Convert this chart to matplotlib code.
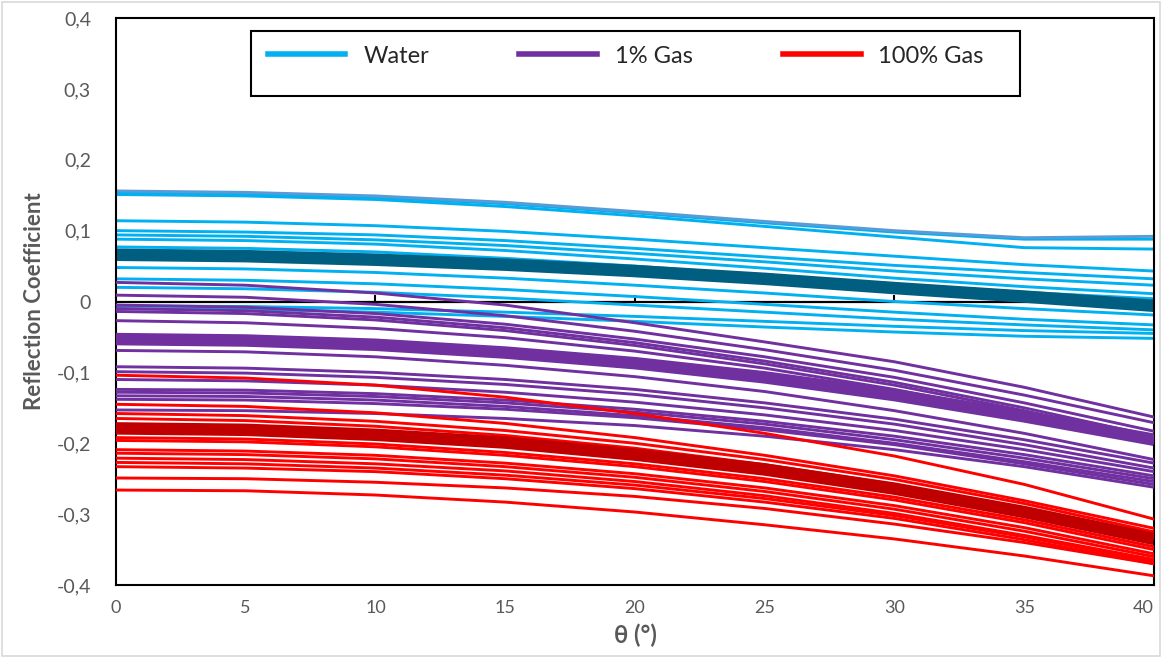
import matplotlib
matplotlib.use("Agg")
import matplotlib.pyplot as plt
from matplotlib.lines import Line2D
from matplotlib.patches import Rectangle

plt.rcParams['font.family'] = ['Lato', 'DejaVu Sans']

# Incidence angles (degrees)
theta = [0, 5, 10, 15, 20, 25, 30, 35, 40]

# Water-saturated cases
water_top = [0.156, 0.154, 0.149, 0.140, 0.127, 0.113, 0.100, 0.090, 0.092]
water_thin = [
    [0.154, 0.152, 0.147, 0.138, 0.125, 0.111, 0.098, 0.088, 0.088],
    [0.151, 0.149, 0.144, 0.134, 0.121, 0.106, 0.091, 0.076, 0.074],
    [0.114, 0.112, 0.107, 0.099, 0.088, 0.076, 0.064, 0.052, 0.043],
    [0.100, 0.098, 0.094, 0.086, 0.075, 0.063, 0.051, 0.041, 0.032],
    [0.094, 0.092, 0.087, 0.079, 0.068, 0.056, 0.043, 0.032, 0.023],
    [0.088, 0.086, 0.081, 0.072, 0.060, 0.047, 0.033, 0.021, 0.011],
    [0.077, 0.075, 0.070, 0.061, 0.050, 0.037, 0.024, 0.013, 0.004],
    [0.048, 0.046, 0.041, 0.033, 0.023, 0.012, 0.000, -0.010, -0.019],
    [0.032, 0.030, 0.025, 0.017, 0.007, -0.004, -0.015, -0.025, -0.033],
    [0.020, 0.018, 0.013, 0.005, -0.005, -0.015, -0.025, -0.033, -0.040],
    [-0.006, -0.007, -0.010, -0.015, -0.021, -0.028, -0.035, -0.041, -0.045],
    [-0.010, -0.011, -0.015, -0.021, -0.028, -0.036, -0.043, -0.049, -0.052],
]
water_mean = [0.066, 0.064, 0.059, 0.052, 0.043, 0.032, 0.019, 0.007, -0.006]

# 1% gas saturation
gas1_thin = [
    [0.027, 0.023, 0.012, -0.005, -0.030, -0.057, -0.085, -0.121, -0.163],
    [0.009, 0.006, -0.004, -0.020, -0.042, -0.068, -0.097, -0.132, -0.171],
    [-0.005, -0.008, -0.017, -0.032, -0.053, -0.078, -0.107, -0.143, -0.183],
    [-0.010, -0.013, -0.022, -0.037, -0.058, -0.084, -0.114, -0.150, -0.190],
    [-0.014, -0.017, -0.026, -0.041, -0.062, -0.088, -0.118, -0.154, -0.196],
    [-0.027, -0.030, -0.038, -0.051, -0.070, -0.094, -0.124, -0.159, -0.200],
    [-0.069, -0.071, -0.078, -0.090, -0.106, -0.127, -0.154, -0.186, -0.223],
    [-0.092, -0.094, -0.100, -0.110, -0.124, -0.143, -0.166, -0.195, -0.228],
    [-0.099, -0.101, -0.107, -0.117, -0.131, -0.150, -0.173, -0.202, -0.235],
    [-0.110, -0.112, -0.118, -0.128, -0.142, -0.160, -0.182, -0.209, -0.240],
    [-0.124, -0.125, -0.130, -0.139, -0.152, -0.169, -0.190, -0.216, -0.246],
    [-0.128, -0.129, -0.134, -0.143, -0.156, -0.173, -0.195, -0.221, -0.250],
    [-0.133, -0.134, -0.139, -0.148, -0.161, -0.178, -0.200, -0.226, -0.254],
    [-0.138, -0.139, -0.144, -0.152, -0.164, -0.181, -0.202, -0.229, -0.258],
    [-0.153, -0.154, -0.158, -0.165, -0.175, -0.190, -0.209, -0.233, -0.262],
]
gas1_mean = [-0.053, -0.055, -0.061, -0.072, -0.087, -0.107, -0.132, -0.162, -0.195]

# 100% gas saturation
gas100_thin = [
    [-0.104, -0.108, -0.118, -0.135, -0.158, -0.186, -0.218, -0.258, -0.307],
    [-0.145, -0.148, -0.157, -0.172, -0.192, -0.217, -0.246, -0.281, -0.320],
    [-0.158, -0.161, -0.169, -0.182, -0.200, -0.223, -0.251, -0.285, -0.325],
    [-0.165, -0.168, -0.176, -0.189, -0.207, -0.230, -0.258, -0.292, -0.330],
    [-0.192, -0.194, -0.201, -0.213, -0.229, -0.250, -0.276, -0.308, -0.346],
    [-0.196, -0.198, -0.205, -0.217, -0.233, -0.254, -0.280, -0.312, -0.350],
    [-0.209, -0.211, -0.217, -0.228, -0.243, -0.263, -0.288, -0.319, -0.356],
    [-0.214, -0.216, -0.222, -0.233, -0.248, -0.268, -0.293, -0.324, -0.360],
    [-0.221, -0.223, -0.229, -0.239, -0.254, -0.274, -0.299, -0.330, -0.364],
    [-0.227, -0.229, -0.235, -0.245, -0.259, -0.278, -0.302, -0.332, -0.367],
    [-0.233, -0.235, -0.240, -0.250, -0.264, -0.283, -0.306, -0.336, -0.370],
    [-0.249, -0.250, -0.255, -0.263, -0.275, -0.292, -0.314, -0.340, -0.370],
    [-0.266, -0.267, -0.273, -0.283, -0.297, -0.315, -0.335, -0.359, -0.387],
]
gas100_mean = [-0.179, -0.181, -0.188, -0.199, -0.216, -0.237, -0.264, -0.297, -0.335]

legend_labels = ["Water", "1% Gas", "100% Gas"]
x_ticks = [0, 5, 10, 15, 20, 25, 30, 35, 40]
y_ticks = [0.4, 0.3, 0.2, 0.1, 0.0, -0.1, -0.2, -0.3, -0.4]

C_WATER = "#00B0F0"
C_WATER_TOP = "#5B9BD5"
C_WATER_MEAN = "#005F80"
C_GAS1 = "#7030A0"
C_GAS100 = "#FF0000"
C_GAS100_MEAN = "#C00000"
C_TEXT = "#595959"

fig = plt.figure(figsize=(11.62, 6.58), dpi=100)
ax = fig.add_axes([0.0998, 0.1109, 0.8933, 0.8617])

THIN = 2.1
THICK = 9.0

# zero line with small ticks on it
ax.axhline(0, color="black", lw=1.6, zorder=1)
ax.plot([10, 20, 30], [0, 0, 0], linestyle="none", marker=2, markersize=5,
        markeredgewidth=1.5, color="black", zorder=1, clip_on=False)

for ys in water_thin:
    ax.plot(theta, ys, color=C_WATER, lw=THIN, zorder=2)
ax.plot(theta, water_top, color=C_WATER_TOP, lw=THIN, zorder=2)
ax.plot(theta, water_mean, color=C_WATER_MEAN, lw=THICK, zorder=2,
        solid_capstyle="butt")

for ys in gas1_thin:
    ax.plot(theta, ys, color=C_GAS1, lw=THIN, zorder=3)
ax.plot(theta, gas1_mean, color=C_GAS1, lw=THICK, zorder=3,
        solid_capstyle="butt")

for ys in gas100_thin:
    ax.plot(theta, ys, color=C_GAS100, lw=THIN, zorder=4)
ax.plot(theta, gas100_mean, color=C_GAS100_MEAN, lw=THICK, zorder=4,
        solid_capstyle="butt")

ax.set_xlim(0, 40)
ax.set_ylim(-0.4, 0.4)
ax.set_xticks(x_ticks)
ax.set_xticklabels([str(v) for v in x_ticks])
ax.set_yticks(y_ticks)
ax.set_yticklabels(["0" if v == 0 else f"{v:.1f}".replace(".", ",") for v in y_ticks])
ax.tick_params(axis="both", length=0, labelcolor=C_TEXT)
ax.tick_params(axis="y", labelsize=14, pad=18)
ax.tick_params(axis="x", labelsize=13, pad=11)
# keep the last angle label inside the chart area
ax.get_xticklabels()[-1].set_horizontalalignment("right")
ax.get_xticklabels()[-1].set_x(40)

for sp in ax.spines.values():
    sp.set_color("black")
    sp.set_linewidth(1.5)

ax.set_ylabel("Reflection Coefficient", fontsize=16, fontweight="bold",
              color=C_TEXT, labelpad=8)
ax.set_xlabel("θ (°)", fontsize=17, fontweight="bold", color=C_TEXT, labelpad=5)

# legend: boxed frame plus three evenly spread entries
ax.add_patch(Rectangle((0.130, 0.862), 0.741, 0.115, transform=ax.transAxes,
                       fill=True, facecolor="white", edgecolor="black",
                       lw=1.5, zorder=9, clip_on=False))
handles = [Line2D([], [], color=c, lw=4) for c in (C_WATER, C_GAS1, C_GAS100)]
leg = ax.legend(handles, legend_labels, loc="center",
                bbox_to_anchor=(0.146, 0.888, 0.69, 0.09), mode="expand",
                ncol=3, frameon=False, fontsize=17,
                handlelength=3.3, handletextpad=0.75, borderaxespad=0,
                borderpad=0.0)
leg.set_zorder(10)
for t in leg.get_texts():
    t.set_color("#262626")

# light outer chart border
fig.patches.append(Rectangle((0.002, 0.003), 0.996, 0.994, transform=fig.transFigure,
                             fill=False, edgecolor="#D9D9D9", lw=1.2))

fig.savefig("out.png", dpi=100)
